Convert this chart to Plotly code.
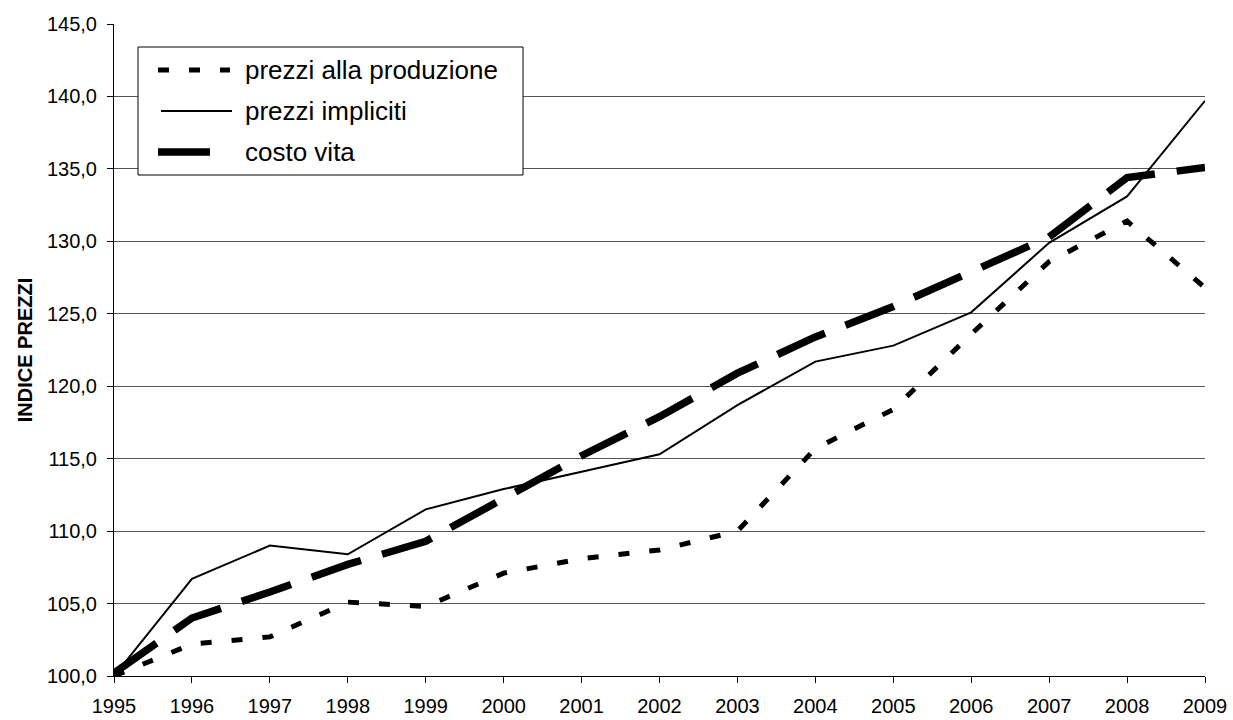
import plotly.graph_objects as go

years = [1995, 1996, 1997, 1998, 1999, 2000, 2001, 2002, 2003, 2004, 2005, 2006, 2007, 2008, 2009]
prezzi_produzione = [100.0, 102.2, 102.7, 105.1, 104.8, 107.1, 108.1, 108.7, 110.0, 115.7, 118.4, 123.6, 128.6, 131.4, 126.8]
prezzi_impliciti = [100.0, 106.7, 109.0, 108.4, 111.5, 112.9, 114.1, 115.3, 118.7, 121.7, 122.8, 125.1, 129.9, 133.1, 139.7]
costo_vita = [100.2, 104.0, 105.8, 107.7, 109.3, 112.2, 115.2, 117.9, 120.9, 123.4, 125.5, 127.9, 130.3, 134.4, 135.1]

names = ["prezzi alla produzione", "prezzi impliciti", "costo vita"]
series = [prezzi_produzione, prezzi_impliciti, costo_vita]
styles = [dict(color="black", width=5, dash="11px,20px"),
          dict(color="black", width=2),
          dict(color="black", width=7.5, dash="52px,22px")]

W, H = 1233, 720
L, R, T, B = 114, 28, 24, 44
PW, PH = W - L - R, H - T - B

def px(x):
    return (x - L) / PW

def py(y):
    return (H - B - y) / PH

fig = go.Figure()
for n, s, st in zip(names, series, styles):
    fig.add_trace(go.Scatter(x=years, y=s, mode="lines", name=n, line=st, showlegend=False))

# custom legend box (Excel-style, long samples)
shapes = [dict(type="rect", xref="paper", yref="paper", x0=px(138), x1=px(523), y0=py(47), y1=py(175),
               line=dict(color="black", width=1), fillcolor="white", layer="above")]
rows = [70, 111, 152]
samples = [(158, 230), (161, 232), (158, 212)]
annotations = []
for n, st, ry, (sx0, sx1) in zip(names, styles, rows, samples):
    shapes.append(dict(type="line", xref="paper", yref="paper", x0=px(sx0), x1=px(sx1), y0=py(ry), y1=py(ry),
                       line=st, layer="above"))
    annotations.append(dict(text=n, xref="paper", yref="paper", x=px(243), y=py(ry), xanchor="left",
                            yanchor="middle", showarrow=False, font=dict(size=26, color="black")))

fig.update_layout(
    width=W, height=H,
    margin=dict(l=L, r=R, t=T, b=B, autoexpand=False),
    paper_bgcolor="white", plot_bgcolor="white",
    separators=",.",
    font=dict(family="Arial, Liberation Sans, sans-serif", color="black", size=20),
    showlegend=False,
    shapes=shapes,
    annotations=annotations,
)
fig.update_xaxes(range=[1995, 2009], tickmode="array", tickvals=years,
                 ticktext=[str(y) for y in years], automargin=False,
                 ticks="outside", ticklen=6, tickcolor="black", ticklabelstandoff=6,
                 showline=True, linecolor="black", linewidth=1,
                 showgrid=False, zeroline=False, tickfont=dict(size=20))
fig.update_yaxes(range=[100, 145], tick0=100, dtick=5, tickformat=".1f", automargin=False,
                 ticks="outside", ticklen=6, tickcolor="black", ticklabelstandoff=6,
                 showline=True, linecolor="black", linewidth=1,
                 showgrid=True, gridcolor="#555555", gridwidth=1, zeroline=False,
                 tickfont=dict(size=20),
                 title=dict(text="<b>INDICE PREZZI</b>", font=dict(size=20), standoff=8))

fig.write_html("out.html", config={"displayModeBar": False},
               post_script="document.body.style.margin='0px';")
